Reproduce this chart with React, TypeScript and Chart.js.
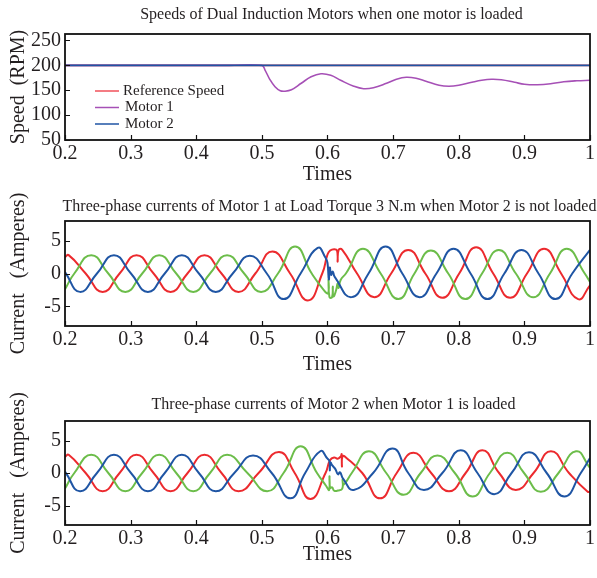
import React, { useEffect, useRef } from "react";
import { Chart, registerables } from "chart.js";

Chart.register(...registerables);

type Pt = [number, number];

// ---------- axis ticks ----------
const xTicks = [0.2, 0.3, 0.4, 0.5, 0.6, 0.7, 0.8, 0.9, 1];
const xTickLabels = ["0.2", "0.3", "0.4", "0.5", "0.6", "0.7", "0.8", "0.9", "1"];
const speedTicks = [50, 100, 150, 200, 250];
const speedTickLabels = ["50", "100", "150", "200", "250"];
const currentTicks = [-5, 0, 5];
const currentTickLabels = ["-5", "0", "5"];

// ---------- speeds (time s, RPM) ----------
const referenceSpeed: Pt[] = [[0.2, 200], [1.0, 200]];
const motor2Speed: Pt[] = [[0.2, 200], [1.0, 200]];
const motor1Speed: Pt[] = [
  [0.2, 200], [0.45, 200], [0.5, 200], [0.505, 190], [0.512, 172], [0.52, 157], [0.528, 149],
  [0.535, 148], [0.545, 151], [0.56, 164], [0.575, 177], [0.59, 183], [0.605, 180], [0.62, 170],
  [0.64, 158], [0.655, 153], [0.67, 155], [0.69, 164], [0.705, 172], [0.72, 176], [0.735, 174],
  [0.75, 168], [0.77, 160], [0.785, 158], [0.8, 160], [0.82, 166], [0.835, 170], [0.85, 172],
  [0.865, 171], [0.885, 166], [0.9, 162], [0.92, 161], [0.94, 163], [0.96, 167], [0.98, 169], [1.0, 170],
];

// ---------- Motor 1 phase currents (time s, A) ----------
const m1PhaseA: Pt[] = [
  [0.2, 2.5], [0.2056, 2.8], [0.2315, 0], [0.2574, -2.8], [0.2832, 0], [0.309, 2.8], [0.335, 0],
  [0.3609, -2.8], [0.3867, 0], [0.4125, 2.8], [0.4385, 0], [0.4644, -2.8], [0.49, 0], [0.516, 3.35],
  [0.543, 0], [0.57, -4.1], [0.592, 0], [0.6, 2.9], [0.604, 3.5], [0.61, 3.7], [0.6145, 3.5],
  [0.6155, 1.8], [0.617, 3.6], [0.6225, 3.6], [0.645, 0], [0.6714, -3.6], [0.697, 0], [0.723, 3.6],
  [0.749, 0], [0.7749, -3.7], [0.8007, 0], [0.8265, 4.0], [0.8525, 0], [0.8784, -3.7], [0.904, 0],
  [0.93, 3.76], [0.956, 0], [0.9819, -3.9], [1.0, -1.8],
];
const m1PhaseB: Pt[] = [
  [0.2, -2.4], [0.2142, 0], [0.2401, 2.8], [0.266, 0], [0.2919, -2.8], [0.3177, 0], [0.3436, 2.8],
  [0.3695, 0], [0.3954, -2.8], [0.421, 0], [0.447, 2.8], [0.473, 0], [0.4988, -2.8], [0.5245, 0],
  [0.5505, 4.1], [0.576, 0], [0.595, -2.6], [0.601, -3.0], [0.6015, -1.0], [0.603, -3.6], [0.607, -3.6],
  [0.608, -2.0], [0.609, -3.5], [0.613, -2.6], [0.6155, -1.5], [0.617, -2.2], [0.62, -1.0], [0.628, 0],
  [0.654, 3.76], [0.681, 0], [0.708, -3.9], [0.7325, 0], [0.7575, 3.5], [0.784, 0], [0.81, -3.9],
  [0.8355, 0], [0.861, 3.6], [0.887, 0], [0.9135, -3.6], [0.939, 0], [0.9645, 3.76], [0.992, 0], [1.0, -1.3],
];
const m1PhaseC: Pt[] = [
  [0.2, 0.2], [0.2228, -2.8], [0.2487, 0], [0.2746, 2.8], [0.3005, 0], [0.3263, -2.8], [0.352, 0],
  [0.378, 2.8], [0.404, 0], [0.4298, -2.8], [0.4556, 0], [0.4815, 2.7], [0.5075, 0], [0.5333, -3.9],
  [0.559, 0], [0.585, 3.9], [0.597, 2.4], [0.6, 1.6], [0.602, -0.9], [0.6035, 0.9], [0.6055, -0.2],
  [0.608, 0.3], [0.611, -0.5], [0.6368, -3.6], [0.6625, 0], [0.6885, 4.1], [0.714, 0], [0.7403, -3.6],
  [0.766, 0], [0.792, 3.76], [0.818, 0], [0.8438, -3.9], [0.8695, 0], [0.8955, 3.6], [0.9215, 0],
  [0.9473, -3.9], [0.973, 0], [1.0, 3.6],
];

// ---------- Motor 2 phase currents (time s, A) ----------
const m2PhaseA: Pt[] = [
  [0.2, 2.5], [0.2056, 2.8], [0.2315, 0], [0.2574, -2.8], [0.2832, 0], [0.309, 2.8], [0.335, 0],
  [0.3609, -2.8], [0.3867, 0], [0.4125, 2.8], [0.4385, 0], [0.4644, -2.8], [0.495, 0], [0.526, 3.25],
  [0.55, 0], [0.574, -4.0], [0.597, 0], [0.604, 2.0], [0.61, 2.4], [0.6155, 2.2], [0.6205, 2.6],
  [0.6215, 2.9], [0.622, 1.0], [0.623, 2.6], [0.628, 2.4], [0.653, 0], [0.68, -3.9], [0.7055, 0],
  [0.731, 3.1], [0.758, 0], [0.785, -2.8], [0.8105, 0], [0.836, 3.5], [0.8615, 0], [0.887, -2.6],
  [0.914, 0], [0.9405, 3.35], [0.968, 0], [0.9965, -2.9], [1.0, -2.85],
];
const m2PhaseB: Pt[] = [
  [0.2, -2.4], [0.2142, 0], [0.2401, 2.8], [0.266, 0], [0.2919, -2.8], [0.3177, 0], [0.3436, 2.8],
  [0.3695, 0], [0.3954, -2.8], [0.421, 0], [0.447, 2.8], [0.478, 0], [0.508, -2.8], [0.533, 0],
  [0.559, 4.1], [0.584, 0], [0.598, -2.0], [0.6025, -2.6], [0.603, -0.5], [0.604, -2.3], [0.607, -2.2],
  [0.61, -2.7], [0.616, -2.7], [0.6225, -2.4], [0.623, -1.0], [0.6245, -1.8], [0.637, 0], [0.663, 3.35],
  [0.6895, 0], [0.716, -3.35], [0.742, 0], [0.7675, 2.7], [0.794, 0], [0.821, -3.6], [0.8475, 0],
  [0.874, 3.1], [0.8995, 0], [0.925, -2.9], [0.952, 0], [0.9786, 3.35], [1.0, 0.8],
];
const m2PhaseC: Pt[] = [
  [0.2, 0.2], [0.2228, -2.8], [0.2487, 0], [0.2746, 2.8], [0.3005, 0], [0.3263, -2.8], [0.352, 0],
  [0.378, 2.8], [0.404, 0], [0.4298, -2.8], [0.458, 0], [0.4865, 2.7], [0.515, 0], [0.5435, -3.9],
  [0.566, 0], [0.589, 3.35], [0.6, 2.2], [0.603, 1.8], [0.6035, 0.4], [0.6045, 1.6], [0.607, 1.2],
  [0.612, 0.6], [0.616, -0.2], [0.619, 0.1], [0.624, -0.9], [0.64, -2.6], [0.6695, 0], [0.699, 3.76],
  [0.723, 0], [0.747, -2.6], [0.775, 0], [0.803, 3.5], [0.8285, 0], [0.854, -3.25], [0.8805, 0],
  [0.907, 3.2], [0.934, 0], [0.961, -3.6], [0.986, 0], [1.0, 2.3],
];

// ---------- styling ----------
const FONT = "'Liberation Serif', 'Times New Roman', Times, serif";
const RED = "#ec2a2e";
const GREEN = "#6cbd4a";
const BLUE = "#1f55a4";
const PURPLE = "#a650b6";
const REF_RED = "#f0505a";
const TEXT = "#231f20";

type DS = { label: string; data: Pt[]; color: string; width: number; tension: number };
type LegendItem = { label: string; color: string };

interface PanelCfg {
  top: number;
  height: number;
  title: string;
  titleY: number;
  titleDx: number;
  areaTop: number;
  yTitle: string;
  yMin: number;
  yMax: number;
  yTicks: number[];
  yLabels: string[];
  xHeight: number;
  timesPadBottom: number;
  datasets: DS[];
  legend?: LegendItem[];
}

const frameTicksPlugin = {
  id: "frameTicks",
  afterDatasetsDraw(chart: any, _args: any, opts: any) {
    const { ctx, chartArea: a, scales } = chart;
    ctx.save();
    ctx.strokeStyle = "#111";
    ctx.lineWidth = 1.8;
    ctx.strokeRect(a.left, a.top, a.right - a.left, a.bottom - a.top);
    ctx.lineWidth = 1.2;
    ctx.beginPath();
    for (const v of xTicks) {
      const px = Math.round(scales.x.getPixelForValue(v)) + 0.5;
      ctx.moveTo(px, a.bottom);
      ctx.lineTo(px, a.bottom - 5);
    }
    for (const v of opts.yTicks as number[]) {
      const py = Math.round(scales.y.getPixelForValue(v)) + 0.5;
      ctx.moveTo(a.left, py);
      ctx.lineTo(a.left + 5, py);
    }
    ctx.stroke();
    ctx.restore();
  },
};

const plotTitlePlugin = {
  id: "plotTitle",
  afterDraw(chart: any, _args: any, opts: any) {
    if (!opts.text) return;
    const { ctx, chartArea: a } = chart;
    ctx.save();
    ctx.font = `16px ${FONT}`;
    ctx.fillStyle = TEXT;
    ctx.textAlign = "center";
    ctx.textBaseline = "middle";
    ctx.fillText(opts.text, (a.left + a.right) / 2 + opts.dx, opts.y);
    ctx.restore();
  },
};

const innerLegendPlugin = {
  id: "innerLegend",
  afterDraw(chart: any, _args: any, opts: any) {
    const items: LegendItem[] = opts.items || [];
    if (!items.length) return;
    const { ctx, chartArea: a } = chart;
    ctx.save();
    ctx.font = `15px ${FONT}`;
    ctx.textBaseline = "middle";
    ctx.textAlign = "left";
    items.forEach((it, i) => {
      const y = a.top + 57 + i * 16.5;
      const x0 = a.left + 30;
      ctx.strokeStyle = it.color;
      ctx.lineWidth = 1.5;
      ctx.beginPath();
      ctx.moveTo(x0, y);
      ctx.lineTo(x0 + 24, y);
      ctx.stroke();
      ctx.fillStyle = TEXT;
      ctx.fillText(it.label, x0 + 28 + (i > 0 ? 2 : 0), y);
    });
    ctx.restore();
  },
};

function Panel({ cfg }: { cfg: PanelCfg }) {
  const ref = useRef<HTMLCanvasElement | null>(null);
  useEffect(() => {
    if (!ref.current) return;
    const chart = new Chart(ref.current, {
      type: "line",
      data: {
        datasets: cfg.datasets.map((d) => ({
          label: d.label,
          data: d.data.map(([x, y]) => ({ x, y })),
          borderColor: d.color,
          backgroundColor: d.color,
          borderWidth: d.width,
          tension: d.tension,
          pointRadius: 0,
          fill: false,
        })),
      },
      options: {
        animation: false,
        responsive: false,
        maintainAspectRatio: false,
        layout: { padding: { left: 0, right: 7, top: cfg.areaTop, bottom: 0 } },
        plugins: {
          legend: { display: false },
          tooltip: { enabled: false },
          title: { display: false },
          plotTitle: { text: cfg.title, y: cfg.titleY, dx: cfg.titleDx },
          frameTicks: { yTicks: cfg.yTicks },
          innerLegend: { items: cfg.legend || [] },
        } as any,
        scales: {
          x: {
            type: "linear",
            min: 0.2,
            max: 1,
            grid: { display: false, drawTicks: false },
            border: { display: false },
            ticks: {
              autoSkip: false,
              maxRotation: 0,
              padding: 2,
              color: TEXT,
              font: { family: FONT, size: 20 },
              callback: (v: any) => {
                const i = xTicks.indexOf(Number(v));
                return i >= 0 ? xTickLabels[i] : "";
              },
            },
            title: {
              display: true,
              text: "Times",
              color: TEXT,
              font: { family: FONT, size: 20 },
              padding: { top: 0, bottom: cfg.timesPadBottom },
            },
            afterBuildTicks: (s: any) => {
              s.ticks = xTicks.map((value) => ({ value }));
            },
            afterFit: (s: any) => {
              s.height = cfg.xHeight;
            },
          },
          y: {
            type: "linear",
            min: cfg.yMin,
            max: cfg.yMax,
            grid: { display: false, drawTicks: false },
            border: { display: false },
            ticks: {
              autoSkip: false,
              padding: 4,
              color: TEXT,
              font: { family: FONT, size: 20 },
              callback: (v: any) => {
                const i = cfg.yTicks.indexOf(Number(v));
                return i >= 0 ? cfg.yLabels[i] : "";
              },
            },
            title: {
              display: true,
              text: cfg.yTitle,
              color: TEXT,
              font: { family: FONT, size: 20 },
              padding: { top: 7, bottom: 0 },
            },
            afterBuildTicks: (s: any) => {
              s.ticks = cfg.yTicks.map((value) => ({ value }));
            },
            afterFit: (s: any) => {
              s.width = 65;
            },
          },
        },
      } as any,
      plugins: [frameTicksPlugin, innerLegendPlugin, plotTitlePlugin],
    });
    return () => chart.destroy();
  }, [cfg]);
  return (
    <canvas
      ref={ref}
      width={597}
      height={cfg.height}
      style={{ position: "absolute", left: 0, top: cfg.top, width: 597, height: cfg.height, display: "block" }}
    />
  );
}

const speedPanel: PanelCfg = {
  top: 0,
  height: 190,
  title: "Speeds of Dual Induction Motors when one motor is loaded",
  titleY: 15,
  titleDx: 4,
  areaTop: 34,
  yTitle: "Speed  (RPM)",
  yMin: 50,
  yMax: 263,
  yTicks: speedTicks,
  yLabels: speedTickLabels,
  xHeight: 50,
  timesPadBottom: 3,
  datasets: [
    { label: "Motor 2", data: motor2Speed, color: BLUE, width: 1.6, tension: 0 },
    { label: "Motor 1", data: motor1Speed, color: PURPLE, width: 1.6, tension: 0.4 },
    { label: "Reference Speed", data: referenceSpeed, color: REF_RED, width: 1.6, tension: 0 },
  ],
  legend: [
    { label: "Reference Speed", color: REF_RED },
    { label: "Motor 1", color: PURPLE },
    { label: "Motor 2", color: BLUE },
  ],
};

const motor1Panel: PanelCfg = {
  top: 190,
  height: 190,
  title: "Three-phase currents of Motor 1 at Load Torque 3 N.m when Motor 2 is not loaded",
  titleY: 17,
  titleDx: 2,
  areaTop: 31,
  yTitle: "Current   (Amperes)",
  yMin: -8,
  yMax: 8,
  yTicks: currentTicks,
  yLabels: currentTickLabels,
  xHeight: 54,
  timesPadBottom: 3,
  datasets: [
    { label: "Phase C", data: m1PhaseC, color: BLUE, width: 2, tension: 0.5 },
    { label: "Phase B", data: m1PhaseB, color: GREEN, width: 2, tension: 0.5 },
    { label: "Phase A", data: m1PhaseA, color: RED, width: 2, tension: 0.5 },
  ],
};

const motor2Panel: PanelCfg = {
  top: 380,
  height: 198,
  title: "Three-phase currents of Motor 2 when Motor 1 is loaded",
  titleY: 25,
  titleDx: 6,
  areaTop: 41,
  yTitle: "Current   (Amperes)",
  yMin: -8,
  yMax: 8,
  yTicks: currentTicks,
  yLabels: currentTickLabels,
  xHeight: 53,
  timesPadBottom: 11,
  datasets: [
    { label: "Phase C", data: m2PhaseC, color: BLUE, width: 2, tension: 0.5 },
    { label: "Phase B", data: m2PhaseB, color: GREEN, width: 2, tension: 0.5 },
    { label: "Phase A", data: m2PhaseA, color: RED, width: 2, tension: 0.5 },
  ],
};

export default function App() {
  return (
    <div style={{ position: "absolute", left: 0, top: 0, width: 597, height: 578, background: "#fff", overflow: "hidden" }}>
      <Panel cfg={speedPanel} />
      <Panel cfg={motor1Panel} />
      <Panel cfg={motor2Panel} />
    </div>
  );
}
